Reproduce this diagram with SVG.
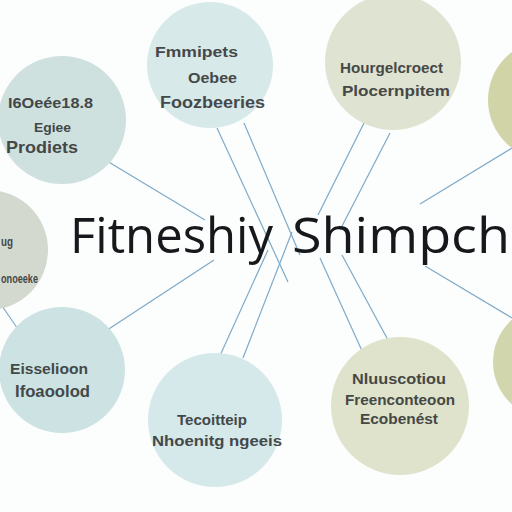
<svg xmlns="http://www.w3.org/2000/svg" width="512" height="512" viewBox="0 0 512 512">
<style>
.c{stroke:none}
.t{font-family:"Liberation Sans",Arial,sans-serif;fill:#2b2d2d;font-weight:bold;opacity:0.85}
.title{font-family:"Open Sans","Noto Sans",sans-serif;fill:#16191b;font-size:49px}
.ln{stroke:#7eaac8;stroke-width:1.2;fill:none}
</style>
<rect width="512" height="512" fill="#fcfdfd"/>
<g id="connectors">
<line class="ln" x1="92" y1="152" x2="205" y2="220"/>
<line class="ln" x1="95" y1="338" x2="214" y2="260"/>
<line class="ln" x1="0" y1="303" x2="20" y2="332"/>
<line class="ln" x1="217" y1="128" x2="288" y2="282"/>
<line class="ln" x1="244" y1="123" x2="300" y2="255"/>
<line class="ln" x1="218" y1="360" x2="268" y2="250"/>
<line class="ln" x1="243" y1="358" x2="292" y2="232"/>
<line class="ln" x1="367" y1="117" x2="318" y2="215"/>
<line class="ln" x1="390" y1="133" x2="340" y2="230"/>
<line class="ln" x1="363" y1="353" x2="320" y2="258"/>
<line class="ln" x1="388" y1="340" x2="342" y2="255"/>
<line class="ln" x1="512" y1="148" x2="420" y2="204"/>
<line class="ln" x1="512" y1="318" x2="425" y2="266"/>
</g>
<g id="n1"><circle class="c" cx="210" cy="65" r="63" fill="#d8e9e9"/>
<text class="t" x="155" y="57" font-size="14" textLength="83" lengthAdjust="spacingAndGlyphs">Fmmipets</text>
<text class="t" x="188" y="83" font-size="14" textLength="49" lengthAdjust="spacingAndGlyphs">Oebee</text>
<text class="t" x="160" y="108" font-size="16" textLength="105" lengthAdjust="spacingAndGlyphs">Foozbeeries</text></g>
<g id="n2"><circle class="c" cx="393" cy="62" r="68" fill="#dfe3d2"/>
<text class="t" x="340" y="73" font-size="15" textLength="103" lengthAdjust="spacingAndGlyphs">Hourgelcroect</text>
<text class="t" x="342" y="96" font-size="15" textLength="108" lengthAdjust="spacingAndGlyphs">Plocernpitem</text></g>
<g id="n3"><circle class="c" cx="62" cy="120" r="64" fill="#cfe1df"/>
<text class="t" x="8" y="108" font-size="14" textLength="85" lengthAdjust="spacingAndGlyphs">I6Oeée18.8</text>
<text class="t" x="34" y="132" font-size="13" textLength="37" lengthAdjust="spacingAndGlyphs">Egiee</text>
<text class="t" x="6" y="153" font-size="17" textLength="72" lengthAdjust="spacingAndGlyphs">Prodiets</text></g>
<g id="n4"><circle class="c" cx="-12" cy="250" r="60" fill="#d4d9cf"/>
<text class="t" x="1" y="246" font-size="13" textLength="12" lengthAdjust="spacingAndGlyphs">ug</text>
<text class="t" x="1" y="283" font-size="13" textLength="37" lengthAdjust="spacingAndGlyphs">onoeeke</text></g>
<g id="n5"><circle class="c" cx="62" cy="370" r="63" fill="#cde3e3"/>
<text class="t" x="10" y="374" font-size="15" textLength="78" lengthAdjust="spacingAndGlyphs">Eisselioon</text>
<text class="t" x="15" y="397" font-size="16" textLength="75" lengthAdjust="spacingAndGlyphs">Ifoaoolod</text></g>
<g id="n6"><circle class="c" cx="215" cy="420" r="67" fill="#d5e9eb"/>
<text class="t" x="177" y="425" font-size="14" textLength="70" lengthAdjust="spacingAndGlyphs">Tecoitteip</text>
<text class="t" x="152" y="446" font-size="14" textLength="130" lengthAdjust="spacingAndGlyphs">Nhoenitg ngeeis</text></g>
<g id="n7"><circle class="c" cx="400" cy="406" r="69" fill="#dfe3cc"/>
<text class="t" x="352" y="384" font-size="14" textLength="94" lengthAdjust="spacingAndGlyphs">Nluuscotiou</text>
<text class="t" x="345" y="405" font-size="14" textLength="110" lengthAdjust="spacingAndGlyphs">Freenconteoon</text>
<text class="t" x="360" y="424" font-size="14" textLength="78" lengthAdjust="spacingAndGlyphs">Ecobenést</text></g>
<g id="n8"><circle class="c" cx="548" cy="100" r="60" fill="#d0d4a6"/></g>
<g id="n9"><circle class="c" cx="550" cy="362" r="57" fill="#d2d6ad"/></g>
<g id="title">
<text class="title" x="70" y="253" textLength="203" lengthAdjust="spacingAndGlyphs">Fitneshiy</text>
<text class="title" x="292" y="253" textLength="218" lengthAdjust="spacingAndGlyphs">Shimpch</text>
</g>
</svg>
